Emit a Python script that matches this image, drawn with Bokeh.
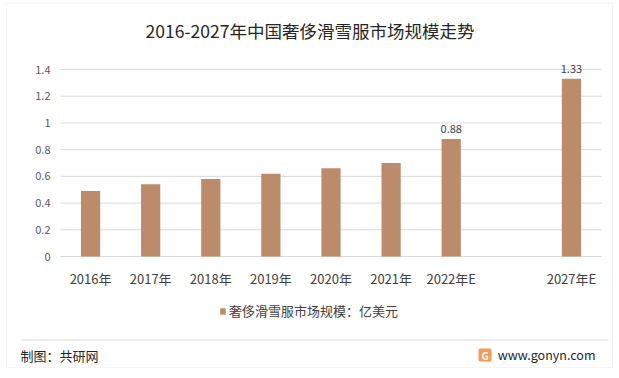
import numpy as np
from bokeh.plotting import figure
from bokeh.models import (Range1d, BoxAnnotation, Label, Legend, LegendItem,
                          ColumnDataSource, LabelSet)
from bokeh.core.properties import value
from bokeh.embed import file_html
from bokeh.resources import INLINE

categories = ["2016年", "2017年", "2018年", "2019年", "2020年", "2021年", "2022年E", "", "2027年E"]
values = [0.49, 0.54, 0.58, 0.62, 0.66, 0.70, 0.88, None, 1.33]
shown_labels = ["", "", "", "", "", "", "0.88", "", "1.33"]
y_ticks = [0, 0.2, 0.4, 0.6, 0.8, 1.0, 1.2, 1.4]
y_tick_labels = ["0", "0.2", "0.4", "0.6", "0.8", "1", "1.2", "1.4"]

title_text = "2016-2027年中国奢侈滑雪服市场规模走势"
legend_text = "奢侈滑雪服市场规模：亿美元"
source_text = "制图：共研网"
site_text = "www.gonyn.com"

FONT = "Noto Sans CJK SC"
BAR = "#BC8C6A"
GRID = "#D9D9D9"
TXT = "#404040"

W, H = 619, 378
FL, FR, FT, FB = 60, 601, 69, 256  # plot area edges in canvas px

n = len(categories)
ymax = y_ticks[-1]
xpx = (FR - FL) / n
ypx = (FB - FT) / ymax

p = figure(width=W, height=H, output_backend="svg", toolbar_location=None,
           x_axis_type=None, y_axis_type=None,
           x_range=Range1d(-FL / xpx, n + (W - FR) / xpx),
           y_range=Range1d(-(H - FB) / ypx, ymax + FT / ypx),
           min_border=0)
p.outline_line_color = None
p.grid.visible = False
p.background_fill_color = "white"
p.border_fill_color = "white"

# gridlines
p.segment(x0=0, x1=n, y0=y_ticks, y1=y_ticks, line_color=GRID, line_width=1)

centers = np.arange(n) + 0.5
xs = [c for c, v in zip(centers, values) if v is not None]
vs = [v for v in values if v is not None]
ls = [l for l, v in zip(shown_labels, values) if v is not None]
src = ColumnDataSource(dict(x=xs, top=vs, lab=ls))
r = p.vbar(x="x", top="top", width=0.32, source=src, fill_color=BAR, line_color=None)

p.add_layout(LabelSet(x="x", y="top", text="lab", source=src, y_offset=6,
                      text_align="center", text_baseline="bottom",
                      text_font=value(FONT), text_font_size="11px", text_color=TXT))

# y tick labels
ysrc = ColumnDataSource(dict(y=y_ticks, t=y_tick_labels, x=[0] * len(y_ticks)))
p.add_layout(LabelSet(x="x", y="y", text="t", source=ysrc, x_offset=-10,
                      text_align="right", text_baseline="middle",
                      text_font=value(FONT), text_font_size="11px", text_color="#595959"))

# x tick labels
xsrc = ColumnDataSource(dict(x=centers, t=categories, y=[0] * n))
p.add_layout(LabelSet(x="x", y="y", text="t", source=xsrc, y_offset=-22,
                      text_align="center", text_baseline="middle",
                      text_font=value(FONT), text_font_size="13px", text_color=TXT))

def sy(y):
    return H - y

# outer border
p.add_layout(BoxAnnotation(left=6, right=612, top=sy(3), bottom=sy(367),
                           left_units="screen", right_units="screen", top_units="screen", bottom_units="screen",
                           fill_color=None, line_color="#D9D9D9", line_width=1, level="underlay"))
# footer separator
p.add_layout(BoxAnnotation(left=21, right=608, top=sy(339), bottom=sy(340),
                           left_units="screen", right_units="screen", top_units="screen", bottom_units="screen",
                           fill_color="#D9D9D9", fill_alpha=1, line_color=None))

p.add_layout(Label(x=309.5, y=sy(30), x_units="screen", y_units="screen", text=title_text,
                   text_align="center", text_baseline="middle", text_font=FONT,
                   text_font_size="17.5px", text_color="#262626"))

legend = Legend(items=[LegendItem(label=legend_text, renderers=[r])],
                location=(219, sy(320)), orientation="horizontal",
                glyph_width=7, glyph_height=8, label_text_font=FONT, label_text_font_size="13px",
                label_text_color=TXT, border_line_color=None, background_fill_alpha=0,
                label_standoff=3, padding=0, margin=0, spacing=0, label_height=14)
p.add_layout(legend, "center")

p.add_layout(Label(x=20, y=sy(355), x_units="screen", y_units="screen", text=source_text,
                   text_align="left", text_baseline="middle", text_font=FONT,
                   text_font_size="13px", text_color="#262626"))
p.add_layout(Label(x=595, y=sy(354), x_units="screen", y_units="screen", text=site_text,
                   text_align="right", text_baseline="middle", text_font=FONT,
                   text_font_size="12.5px", text_color="#262626"))
# logo
p.add_layout(BoxAnnotation(left=478, right=491, top=sy(348), bottom=sy(361),
                           left_units="screen", right_units="screen", top_units="screen", bottom_units="screen",
                           fill_color="#F4995A", fill_alpha=1, line_color=None, border_radius=2))
p.add_layout(Label(x=484.5, y=sy(354.5), x_units="screen", y_units="screen", text="G",
                   text_align="center", text_baseline="middle", text_font=FONT,
                   text_font_size="10px", text_font_style="bold", text_color="white"))

open("out.html", "w").write(file_html(p, INLINE))
